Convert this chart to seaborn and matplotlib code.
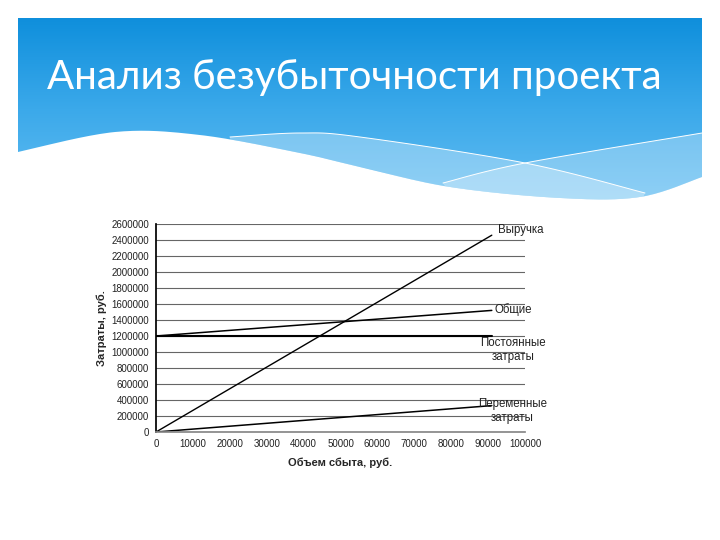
import numpy as np
import pandas as pd
import matplotlib
matplotlib.use("Agg")
import matplotlib.pyplot as plt
from matplotlib.path import Path
from matplotlib.patches import PathPatch, Polygon
import seaborn as sns

# --- data ---
volume = [0, 91000]                 # объем сбыта, руб.
revenue = [0, 2460000]              # Выручка
total_costs = [1200000, 1520000]    # Общие
fixed_costs = [1200000, 1200000]    # Постоянные затраты
variable_costs = [0, 330000]        # Переменные затраты
y_ticks = list(range(0, 2600001, 200000))
x_ticks = list(range(0, 100001, 10000))

title = "Анализ безубыточности проекта"


def smooth(pts, n=20):
    # catmull-rom through the given points (slide decoration only)
    p = np.array(pts, dtype=float)
    p = np.vstack([p[0], p, p[-1]])
    out = []
    for i in range(1, len(p) - 2):
        p0, p1, p2, p3 = p[i - 1], p[i], p[i + 1], p[i + 2]
        for t in np.linspace(0, 1, n, endpoint=False):
            out.append(0.5 * ((2 * p1) + (-p0 + p2) * t
                              + (2 * p0 - 5 * p1 + 4 * p2 - p3) * t ** 2
                              + (-p0 + 3 * p1 - 3 * p2 + p3) * t ** 3))
    out.append(p[-2])
    return np.array(out)


sns.set_theme(style="white")
plt.rcParams["font.family"] = ["Liberation Sans", "DejaVu Sans"]

fig = plt.figure(figsize=(7.2, 5.4), dpi=100)

# slide background: blue header band with a wave
bg = fig.add_axes([0, 0, 1, 1])
bg.set_xlim(0, 720)
bg.set_ylim(540, 0)
bg.axis("off")

wave = smooth([(18, 152), (115, 132), (200, 135), (300, 153), (360, 167),
               (450, 187), (560, 198), (640, 197), (702, 177)])
top = [(18, 26), (18, 18), (26, 18), (694, 18), (702, 18), (702, 26)]
verts = top + [tuple(v) for v in wave[::-1]] + [(18, 26)]
clip = PathPatch(Path(verts), facecolor="none", edgecolor="none")
bg.add_patch(clip)
grad = np.linspace(0, 1, 256).reshape(-1, 1)
cmap = matplotlib.colors.LinearSegmentedColormap.from_list(
    "band", ["#0f8fdc", "#3ba9ea", "#62bdf2"])
img = bg.imshow(grad, cmap=cmap, extent=[18, 702, 200, 18], aspect="auto")
img.set_clip_path(clip)

line1 = smooth([(230, 137), (300, 133), (360, 137), (525, 163), (645, 193)])
line2 = smooth([(443, 183), (525, 163), (702, 133)])


def wave_between(x0, x1):
    sel = wave[(wave[:, 0] >= x0) & (wave[:, 0] <= x1)]
    return [tuple(v) for v in sel]


rib_a = [tuple(v) for v in line1] + wave_between(230, 645)[::-1]
rib_b = [tuple(v) for v in line2] + [(702, 177)] + wave_between(443, 702)[::-1]
bg.add_patch(Polygon(rib_a, closed=True, facecolor="white", edgecolor="none", alpha=0.3))
bg.add_patch(Polygon(rib_b, closed=True, facecolor="white", edgecolor="none", alpha=0.28))
bg.plot(line1[:, 0], line1[:, 1], color="white", lw=0.7)
bg.plot(line2[:, 0], line2[:, 1], color="white", lw=0.7)

bg.text(47, 78, title, color="white", fontsize=29, va="center", ha="left",
        family=["Lato", "DejaVu Sans"])

# --- chart ---
ax = fig.add_axes([156 / 720, 1 - 432 / 540, 369 / 720, 208 / 540])
df = pd.DataFrame({
    "volume": volume * 4,
    "value": revenue + total_costs + fixed_costs + variable_costs,
    "series": ["Выручка"] * 2 + ["Общие"] * 2 + ["Постоянные"] * 2 + ["Переменные"] * 2,
})
widths = {"Выручка": 1.0, "Общие": 1.1, "Постоянные": 1.5, "Переменные": 1.1}
for name, part in df.groupby("series", sort=False):
    sns.lineplot(data=part, x="volume", y="value", color="black",
                 lw=widths[name], ax=ax, legend=False)

ax.set_xlim(0, 100000)
ax.set_ylim(0, 2600000)
ax.set_xticks(x_ticks)
ax.set_yticks(y_ticks)
ax.set_xticklabels([str(v) for v in x_ticks], fontsize=7, color="#222222")
ax.set_yticklabels([str(v) for v in y_ticks], fontsize=7, color="#222222")
ax.yaxis.grid(True, color="#666666", lw=0.8)
ax.set_axisbelow(True)
ax.tick_params(axis="both", direction="out", length=3, width=0.8, color="#888888", pad=2)
for s in ["top", "right"]:
    ax.spines[s].set_visible(False)
ax.spines["left"].set_color("black")
ax.spines["bottom"].set_color("#888888")
ax.set_xlabel("Объем сбыта, руб.", fontsize=8, fontweight="bold", labelpad=6)
ax.set_ylabel("Затраты, руб.", fontsize=8, fontweight="bold", labelpad=3)

lab = dict(fontsize=8.3, ha="center", va="center", color="#222222", clip_on=False)
ax.text(98800, 2525000, "Выручка", **lab)
ax.text(96700, 1525000, "Общие", **lab)
ax.text(96800, 1025000, "Постоянные\nзатраты", linespacing=1.15, **lab)
ax.text(96600, 262000, "Переменные\nзатраты", linespacing=1.15, **lab)

fig.savefig("out.png", dpi=100)
